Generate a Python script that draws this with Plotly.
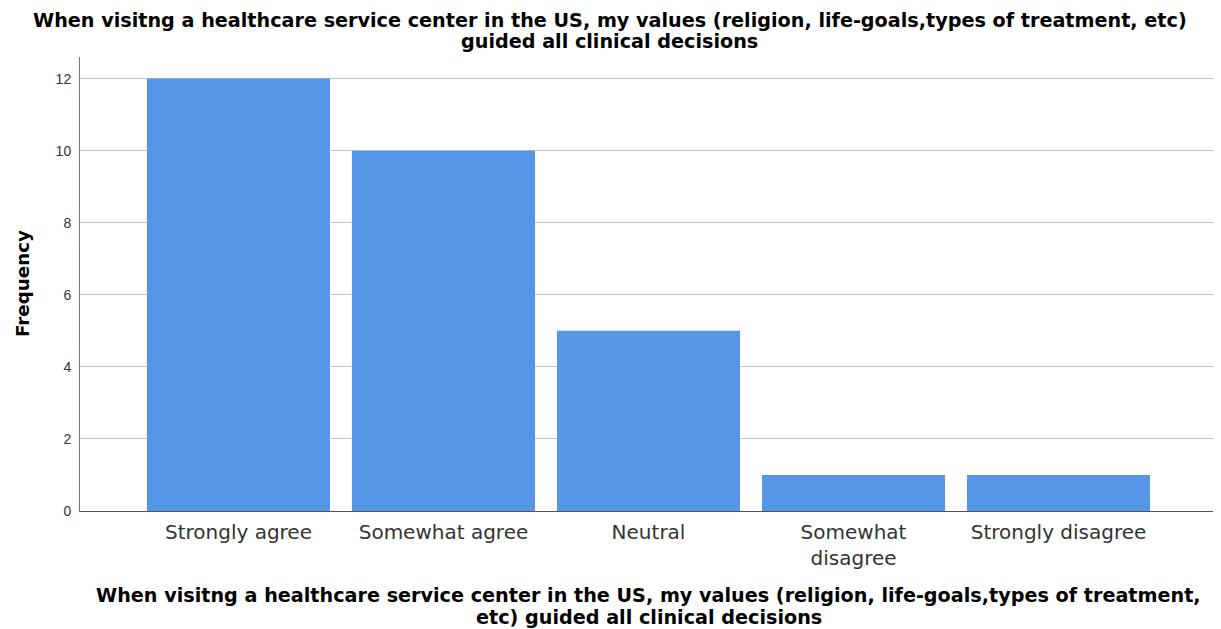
import plotly.graph_objects as go

categories = ["Strongly agree", "Somewhat agree", "Neutral", "Somewhat<br>disagree", "Strongly disagree"]
frequencies = [12, 10, 5, 1, 1]
y_ticks = [0, 2, 4, 6, 8, 10, 12]
title_lines = ["When visitng a healthcare service center in the US, my values (religion, life-goals,types of treatment, etc)",
               "guided all clinical decisions"]
xtitle_lines = ["When visitng a healthcare service center in the US, my values (religion, life-goals,types of treatment,",
                "etc) guided all clinical decisions"]
ytitle_text = "Frequency"

SANS = "DejaVu Sans, Verdana, sans-serif"
LIB = "Liberation Sans, Arial, sans-serif"

fig = go.Figure(go.Bar(
    x=categories, y=frequencies,
    marker=dict(color="#5596e6", line=dict(width=0)),
    hoverinfo="x+y",
))

annotations = []
# chart title (one annotation per line, to keep the reference's line spacing)
for line, shift in zip(title_lines, [37, 16]):
    annotations.append(dict(
        text="<b>" + line + "</b>", x=0.5, xref="paper", xshift=-39,
        y=1, yref="paper", yshift=shift, xanchor="center", yanchor="middle",
        showarrow=False, font=dict(size=19.2, color="#000", family=SANS)))
# x axis title
for line, shift in zip(xtitle_lines, [-84, -106]):
    annotations.append(dict(
        text="<b>" + line + "</b>", x=0.5, xref="paper",
        y=0, yref="paper", yshift=shift, xanchor="center", yanchor="middle",
        showarrow=False, font=dict(size=19.2, color="#000", family=SANS)))
# y axis title
annotations.append(dict(
    text="<b>" + ytitle_text + "</b>", x=0, xref="paper", xshift=-58,
    y=0.5, yref="paper", xanchor="center", yanchor="middle", textangle=-90,
    showarrow=False, font=dict(size=18.3, color="#000", family=SANS)))

fig.update_layout(
    width=1213, height=621,
    margin=dict(l=72, r=4, t=49, b=118),
    plot_bgcolor="white", paper_bgcolor="white",
    bargap=0.107,
    showlegend=False,
    font=dict(family=SANS, color="#222"),
    xaxis=dict(
        range=[-0.773, 4.773],
        showline=True, linecolor="#555", linewidth=1,
        ticks="outside", ticklen=3, tickcolor="rgba(0,0,0,0)",
        tickfont=dict(size=20, color="#333", family=SANS),
        showgrid=False, tickangle=0,
    ),
    yaxis=dict(
        range=[0, 12.6],
        tickvals=y_ticks,
        showline=True, linecolor="#777", linewidth=1,
        showgrid=True, gridcolor="#c4c4c4", gridwidth=1,
        ticks="outside", ticklen=5, tickcolor="rgba(0,0,0,0)",
        tickfont=dict(size=14, color="#333", family=LIB),
        zeroline=False,
    ),
    annotations=annotations,
)

fig.write_html("out.html")
